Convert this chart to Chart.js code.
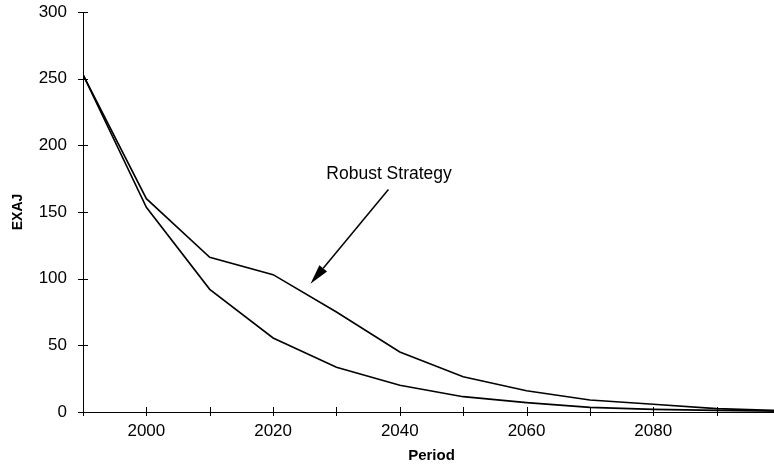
<!DOCTYPE html>
<html>
<head>
<meta charset="utf-8">
<script src="https://cdn.jsdelivr.net/npm/chart.js@4"></script>
<style>
  html, body { margin: 0; padding: 0; background: #fff; overflow: hidden; }
  .chart-container { position: absolute; left: 0; top: 0; width: 800px; height: 473px; }
</style>
</head>
<body>
<div class="chart-container">
  <canvas id="exajChart" width="800" height="473"></canvas>
</div>
<script>
const years = [1990, 2000, 2010, 2020, 2030, 2040, 2050, 2060, 2070, 2080, 2090, 2100];
const robustStrategy = [253, 160, 116, 103, 75, 45, 26.5, 16, 9, 5.8, 2.5, 1];
const otherPath = [253, 153.5, 92, 55.5, 33.5, 20, 11.5, 7, 3.5, 2, 1.2, 0.6];
const yTicks = [0, 50, 100, 150, 200, 250, 300];
const xLabelYears = [2000, 2020, 2040, 2060, 2080];

// annotation: text position and arrow (in data units)
const noteText = 'Robust Strategy';
const notePos = { x: 2038.3, y: 178 };
const arrowFrom = { x: 2038.2, y: 166.8 };
const arrowTo = { x: 2025.9, y: 96.2 };

const FONT = "'Liberation Sans', Arial, sans-serif";

// tick marks crossing both axes
const crossTicks = {
  id: 'crossTicks',
  afterDraw(chart) {
    const { ctx, scales: { x, y }, chartArea } = chart;
    ctx.save();
    ctx.strokeStyle = '#000';
    ctx.lineWidth = 1;
    ctx.beginPath();
    x.ticks.forEach(t => {
      const px = Math.round(x.getPixelForValue(t.value)) + 0.5;
      ctx.moveTo(px, chartArea.bottom - 5);
      ctx.lineTo(px, chartArea.bottom + 4);
    });
    y.ticks.forEach(t => {
      const py = Math.round(y.getPixelForValue(t.value)) + 0.5;
      ctx.moveTo(chartArea.left - 5, py);
      ctx.lineTo(chartArea.left + 5, py);
    });
    ctx.stroke();
    ctx.restore();
  }
};

const arrowNote = {
  id: 'arrowNote',
  afterDatasetsDraw(chart) {
    const { ctx, scales: { x, y } } = chart;
    const x0 = x.getPixelForValue(arrowFrom.x), y0 = y.getPixelForValue(arrowFrom.y);
    const x1 = x.getPixelForValue(arrowTo.x), y1 = y.getPixelForValue(arrowTo.y);
    const ang = Math.atan2(y1 - y0, x1 - x0);
    const headLen = 20, headW = 5;
    const bx = x1 - headLen * Math.cos(ang), by = y1 - headLen * Math.sin(ang);
    ctx.save();
    ctx.strokeStyle = '#000';
    ctx.fillStyle = '#000';
    ctx.lineWidth = 1.5;
    ctx.beginPath();
    ctx.moveTo(x0, y0);
    ctx.lineTo(bx, by);
    ctx.stroke();
    ctx.beginPath();
    ctx.moveTo(x1, y1);
    ctx.lineTo(bx + headW * Math.sin(ang), by - headW * Math.cos(ang));
    ctx.lineTo(bx - headW * Math.sin(ang), by + headW * Math.cos(ang));
    ctx.closePath();
    ctx.fill();
    ctx.font = '17.5px ' + FONT;
    ctx.textAlign = 'center';
    ctx.textBaseline = 'middle';
    ctx.fillText(noteText, x.getPixelForValue(notePos.x), y.getPixelForValue(notePos.y));
    ctx.restore();
  }
};

const ctx = document.getElementById('exajChart').getContext('2d');

new Chart(ctx, {
  type: 'line',
  data: {
    datasets: [
      {
        label: 'Robust Strategy',
        data: years.map((yr, i) => ({ x: yr, y: robustStrategy[i] })),
        borderColor: '#000',
        borderWidth: 1.6,
        pointRadius: 0,
        tension: 0,
        fill: false
      },
      {
        label: 'Other',
        data: years.map((yr, i) => ({ x: yr, y: otherPath[i] })),
        borderColor: '#000',
        borderWidth: 1.6,
        pointRadius: 0,
        tension: 0,
        fill: false
      }
    ]
  },
  options: {
    responsive: false,
    devicePixelRatio: 1,
    animation: false,
    layout: { padding: { top: 12, right: 20, left: 0, bottom: 0 } },
    plugins: {
      legend: { display: false },
      tooltip: { enabled: false }
    },
    scales: {
      x: {
        type: 'linear',
        min: 1990,
        max: 2100,
        afterFit: s => { s.height = 61; s.paddingLeft = 0; s.paddingRight = 0; },
        grid: { display: true, drawOnChartArea: false, drawTicks: false },
        border: { display: true, color: '#000', width: 1 },
        ticks: {
          stepSize: 10,
          padding: 9,
          color: '#000',
          font: { family: FONT, size: 17 },
          maxRotation: 0,
          autoSkip: false,
          callback: v => xLabelYears.includes(v) ? String(v) : ''
        },
        title: {
          display: true,
          text: 'Period',
          color: '#000',
          font: { family: FONT, size: 15, weight: 'bold' },
          padding: { top: 8, bottom: 8 }
        }
      },
      y: {
        min: 0,
        max: 300,
        afterFit: s => { s.width = 83; s.paddingTop = 0; s.paddingBottom = 0; },
        afterBuildTicks: s => { s.ticks = yTicks.map(v => ({ value: v })); },
        grid: { display: true, drawOnChartArea: false, drawTicks: false },
        border: { display: true, color: '#000', width: 1 },
        ticks: {
          padding: 16,
          color: '#000',
          font: { family: FONT, size: 17 }
        },
        title: {
          display: true,
          text: 'EXAJ',
          color: '#000',
          font: { family: FONT, size: 14, weight: 'bold' },
          padding: { top: 10, bottom: 10 }
        }
      }
    }
  },
  plugins: [crossTicks, arrowNote]
});
</script>
</body>
</html>
